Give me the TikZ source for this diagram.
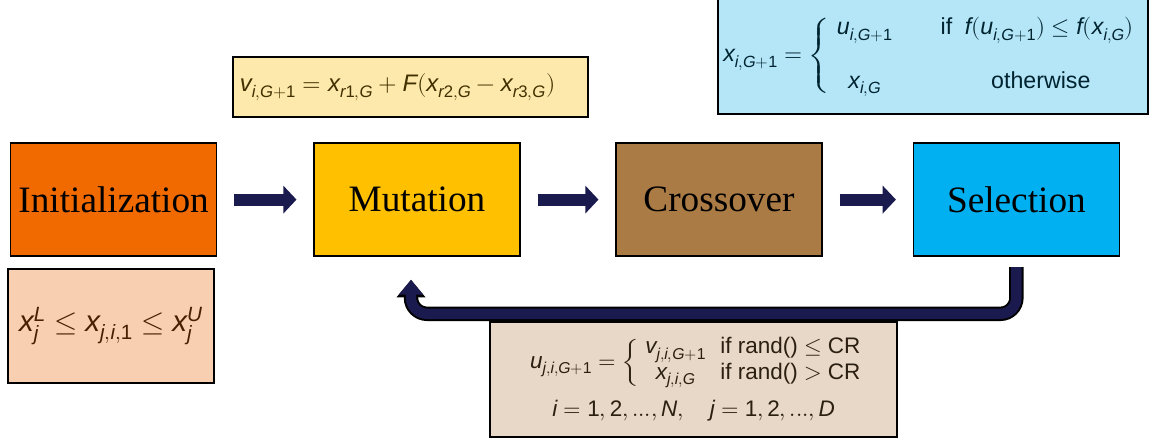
\documentclass[tikz,border=0pt]{standalone}
\usepackage{amsmath}
\usepackage{fontspec}
\usepackage{unicode-math}
\setmainfont{Liberation Serif}
\setsansfont{Liberation Sans}
\setmathfont{Latin Modern Math}
\setmathfont[range=it]{Liberation Sans Italic}
\setmathfont[range=up/num]{Liberation Sans}
\usepackage{xcolor}
\usetikzlibrary{positioning,arrows.meta}

\definecolor{initfill}{HTML}{F06A00}
\definecolor{initlight}{HTML}{F8CFB0}
\definecolor{mutfill}{HTML}{FFC000}
\definecolor{mutlight}{HTML}{FDE9AB}
\definecolor{crossfill}{HTML}{AB7B45}
\definecolor{crosslight}{HTML}{E8D8C8}
\definecolor{selfill}{HTML}{00B0F0}
\definecolor{sellight}{HTML}{B5E6F8}
\definecolor{arrownavy}{HTML}{1B1A4F}

\tikzset{
	stage/.style={draw=black, line width=1pt, minimum width=5.15cm, minimum height=2.825cm, font=\fontsize{26.5}{31}\selectfont},
	formula/.style={draw=black, line width=1pt, inner sep=0pt, align=center, font=\sffamily\fontsize{16}{19}\selectfont},
	flow/.style={draw=arrownavy, line width=0.3cm, -{Triangle[length=0.33cm,width=0.68cm]}, shorten <=0.42cm, shorten >=0.42cm},
	backline/.style={draw=black, line width=0.36cm, rounded corners=0.4cm, -{Triangle[length=0.44cm,width=0.7cm]}},
	backfill/.style={draw=arrownavy, line width=0.26cm, rounded corners=0.4cm, -{Triangle[length=0.37cm,width=0.58cm]}}
}

\begin{document}
\begin{tikzpicture}
	
	\useasboundingbox (0,0) rectangle (28.8,-10.975);
	
	% the four stages
	\node[stage, fill=initfill] (init) at (2.84,-4.99) {Initialization};
	\node[stage, fill=mutfill] (mut) at (10.425,-4.99) {Mutation};
	\node[stage, fill=crossfill] (cross) at (17.975,-4.99) {Crossover};
	\node[stage, fill=selfill] (sel) at (25.41,-4.99) {Selection};
	
	% formulas
	\node[formula, fill=initlight, text=initfill!30!black, minimum width=5.15cm, minimum height=2.85cm, font=\sffamily\fontsize{21}{25}\selectfont]
	(initeq) at (2.775,-8.15)
	{$x_j^L \le x_{j,i,1} \le x_j^U$};
	
	\node[formula, fill=mutlight, text=mutfill!25!black, inner xsep=0.175cm, text width=8.525cm, align=left, minimum height=1.5cm, font=\sffamily\fontsize{17}{20}\selectfont]
	(muteq) at (10.26,-2.175)
	{$v_{i,G+1} = x_{r1,G} + F(x_{r2,G} - x_{r3,G})$};
	
	\node[formula, fill=sellight, text=selfill!20!black, minimum width=10.75cm, minimum height=2.9cm, font=\sffamily\fontsize{16.5}{20}\selectfont]
	(seleq) at (23.325,-1.4)
	{\raisebox{0.12cm}{$x_{i,G+1} = \left\{
		\begin{array}{c@{\hspace{34pt}}c@{\hspace{9pt}}c}
			u_{i,G+1} & \text{if} & f(u_{i,G+1}) \le f(x_{i,G}) \\[18pt]
			x_{i,G} & \multicolumn{2}{c}{\text{otherwise}}
		\end{array}\right.$}};
	
	\node[formula, fill=crosslight, text=crossfill!25!black, minimum width=10.175cm, minimum height=2.875cm, font=\sffamily\fontsize{16}{16.5}\selectfont]
	(crosseq) at (17.34,-9.49)
	{\hspace{0.3cm}$u_{j,i,G+1} = \left\{
		\begin{array}{cl}
			v_{j,i,G+1} & \text{if rand()} \le \text{CR} \\
			x_{j,i,G} & \text{if rand()} > \text{CR}
		\end{array}\right.$ \\[8pt]
	$i = 1,2,...,N, \quad j = 1,2,...,D$};
	
	% flow
	\draw[flow] (init) -- (mut);
	\draw[flow] (mut) -- (cross);
	\draw[flow] (cross) -- (sel);
	
	% back to mutation
	\coordinate (fbstart) at ([yshift=-0.26cm]sel.south);
	\coordinate (fbend) at ([xshift=-0.15cm,yshift=-0.575cm]mut.south);
	\foreach \sty in {backline,backfill}
	{
		\draw[\sty] (fbstart) |- ([xshift=-0.15cm,yshift=-1.425cm]mut.south) -- (fbend);
	}
	
\end{tikzpicture}
\end{document}
